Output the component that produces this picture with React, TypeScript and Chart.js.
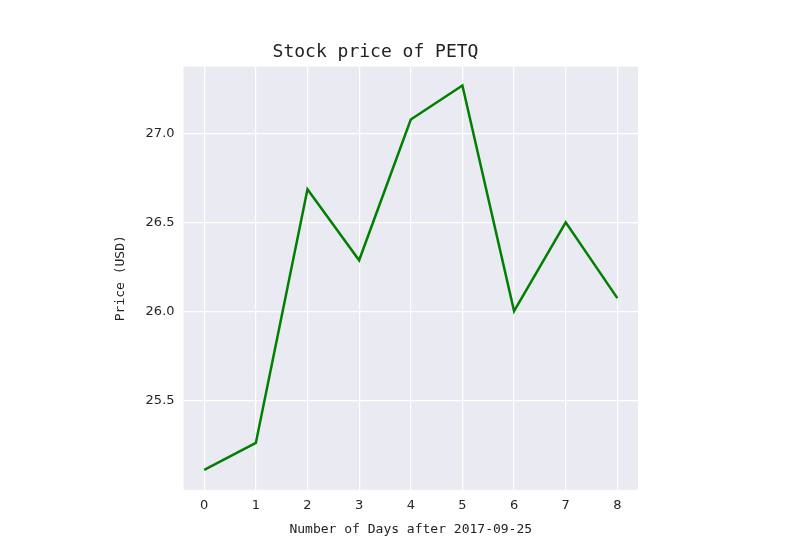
import { useEffect, useRef } from 'react';
import { Chart, registerables } from 'chart.js';

Chart.register(...registerables);

const days = [0, 1, 2, 3, 4, 5, 6, 7, 8];
const prices = [25.114, 25.265, 26.687, 26.289, 27.078, 27.269, 26.004, 26.502, 26.077];
const yTicks = [25.5, 26.0, 26.5, 27.0];

const mono = 'DejaVu Sans Mono';
const sans = 'DejaVu Sans';

const background = {
	id: 'background',
	beforeDraw(chart: Chart) {
		const { ctx, chartArea } = chart;
		ctx.save();
		ctx.fillStyle = '#EAEAF2';
		ctx.fillRect(chartArea.left, chartArea.top, chartArea.right - chartArea.left, chartArea.bottom - chartArea.top);
		ctx.restore();
	},
};

export default function App() {
	const canvasRef = useRef<HTMLCanvasElement>(null);

	useEffect(() => {
		document.body.style.margin = '0';
		const ctx = canvasRef.current?.getContext('2d');
		if (!ctx) return;

		const chart = new Chart(ctx, {
			type: 'line',
			data: {
				datasets: [
					{
						data: days.map((d, i) => ({ x: d, y: prices[i] })),
						borderColor: '#008000',
						borderWidth: 2.5,
						pointRadius: 0,
						tension: 0,
					},
				],
			},
			options: {
				animation: false,
				responsive: false,
				layout: { padding: { left: 113, right: 162, top: 42, bottom: 13 } },
				plugins: {
					legend: { display: false },
					tooltip: { enabled: false },
					title: {
						display: true,
						text: 'Stock price of PETQ',
						color: '#222',
						font: { family: mono, size: 18, weight: 'normal' },
						padding: { top: 0, bottom: 3 },
					},
				},
				scales: {
					x: {
						type: 'linear',
						min: -0.4,
						max: 8.4,
						afterBuildTicks: (axis) => {
							axis.ticks = days.map((v) => ({ value: v }));
						},
						grid: { color: '#ffffff', lineWidth: 1.2, drawTicks: false },
						border: { display: false },
						ticks: { color: '#262626', font: { family: sans, size: 13 }, padding: 8 },
						title: {
							display: true,
							text: 'Number of Days after 2017-09-25',
							color: '#222',
							font: { family: mono, size: 13 },
							padding: { top: 0, bottom: 0 },
						},
					},
					y: {
						min: 25.002,
						max: 27.375,
						afterBuildTicks: (axis) => {
							axis.ticks = yTicks.map((v) => ({ value: v }));
						},
						grid: { color: '#ffffff', lineWidth: 1.2, drawTicks: false },
						border: { display: false },
						ticks: {
							color: '#262626',
							font: { family: sans, size: 13 },
							padding: 9,
							callback: (v) => Number(v).toFixed(1),
						},
						title: {
							display: true,
							text: 'Price (USD)',
							color: '#222',
							font: { family: mono, size: 13 },
							padding: { top: 0, bottom: 8 },
						},
					},
				},
			},
			plugins: [background],
		});
		return () => chart.destroy();
	}, []);

	return <canvas ref={canvasRef} width={800} height={550} />;
}
